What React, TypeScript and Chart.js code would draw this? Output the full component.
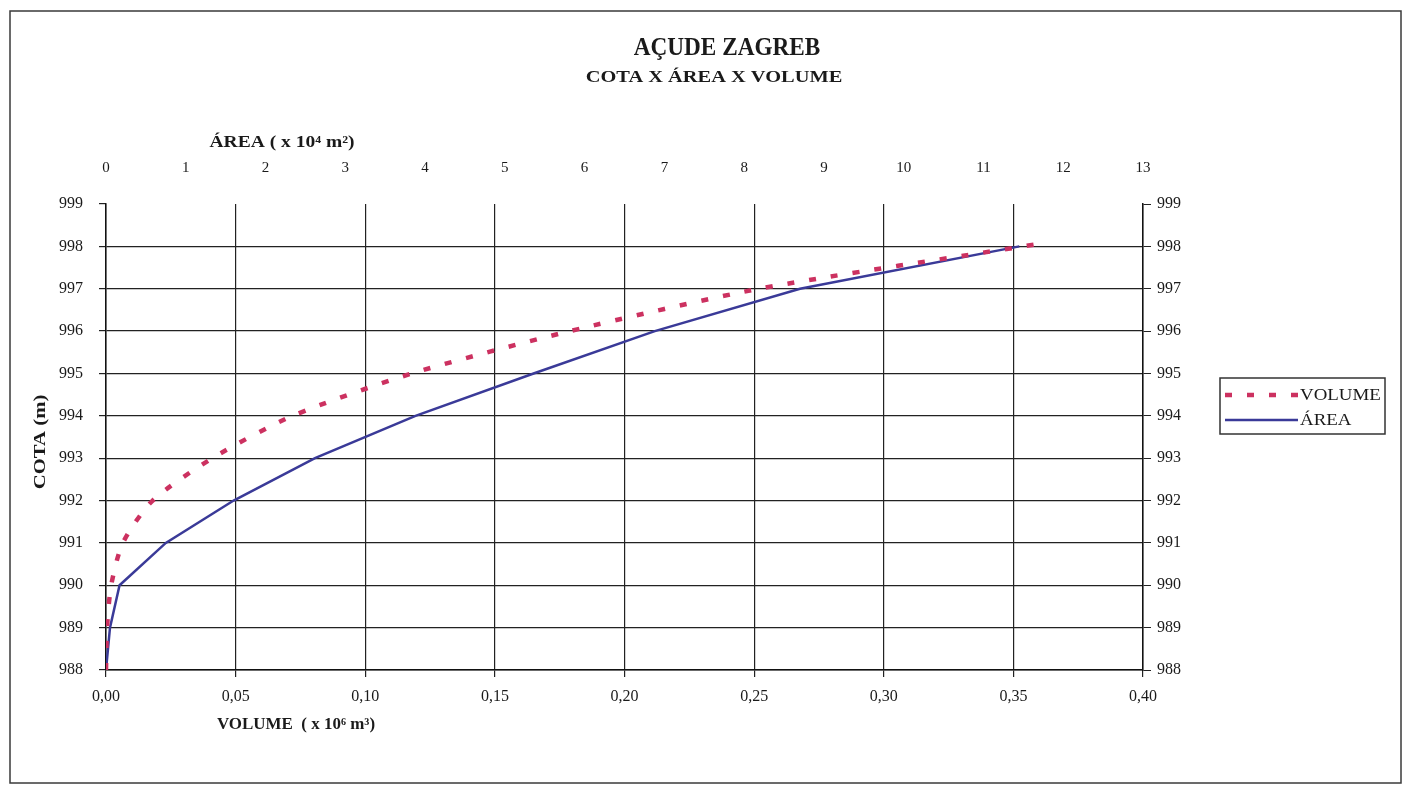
import React, { useEffect, useRef } from 'react';
import { Chart, registerables } from 'chart.js';

Chart.register(...registerables);

// ---- data ----
const TITLE = 'AÇUDE ZAGREB';
const SUBTITLE = 'COTA X ÁREA X VOLUME';
const AREA_TITLE = 'ÁREA ( x 10⁴ m²)';
const VOLUME_TITLE = 'VOLUME  ( x 10⁶ m³)';
const COTA_TITLE = 'COTA (m)';

const volumeLabel = 'VOLUME';
const areaLabel = 'ÁREA';

// cota (m) vs volume (x 10^6 m3)
const volumeCotas = [988, 989, 990, 991, 992, 993, 994, 995, 996, 997, 998.05];
const volumeValues = [0, 0.0004, 0.002, 0.0065, 0.018, 0.041, 0.072, 0.118, 0.179, 0.252, 0.359];

// cota (m) vs area (x 10^4 m2)
const areaCotas = [988, 989, 990, 991, 992, 993, 994, 995, 996, 997, 998];
const areaValues = [0, 0.05, 0.17, 0.75, 1.6, 2.62, 3.88, 5.36, 6.88, 8.7, 11.45];

// axes
const volumeRange = [0, 0.4];
const volumeStep = 0.05;
const areaRange = [0, 13];
const areaStep = 1;
const cotaRange = [988, 999];
const cotaStep = 1;

const SERIF = '"Liberation Serif", "Times New Roman", serif';
const RED = '#cc3160';
const BLUE = '#3a3a98';
const INK = '#1a1a1a';

// draw text widened horizontally (the scanned lettering is broad)
function wideText(ctx: any, text: string, x: number, y: number, sx: number, align: string = 'center') {
  ctx.save();
  ctx.translate(x, y);
  ctx.scale(sx, 1);
  ctx.textAlign = align;
  ctx.fillText(text, 0, 0);
  ctx.restore();
}

const decorPlugin = {
  id: 'decor',
  afterDraw(chart: any) {
    const ctx = chart.ctx as CanvasRenderingContext2D;
    ctx.save();
    // outer frame
    ctx.strokeStyle = '#3a3a3a';
    ctx.lineWidth = 1.5;
    ctx.strokeRect(10, 11, 1391, 772);

    ctx.fillStyle = INK;
    ctx.textBaseline = 'middle';
    ctx.font = `bold 25px ${SERIF}`;
    wideText(ctx, TITLE, 727, 49, 0.93);
    ctx.font = `bold 17px ${SERIF}`;
    wideText(ctx, SUBTITLE, 714, 78, 1.2);

    ctx.font = `bold 16px ${SERIF}`;
    wideText(ctx, AREA_TITLE, 282, 143, 1.22);
    ctx.font = `bold 16px ${SERIF}`;
    wideText(ctx, VOLUME_TITLE, 296, 725, 1.06);

    ctx.save();
    ctx.translate(41, 442);
    ctx.rotate(-Math.PI / 2);
    ctx.font = `bold 17px ${SERIF}`;
    wideText(ctx, COTA_TITLE, 0, 0, 1.22);
    ctx.restore();

    // legend
    const bx = 1220, by = 378, bw = 165, bh = 56;
    ctx.strokeStyle = '#333';
    ctx.lineWidth = 1.5;
    ctx.strokeRect(bx, by, bw, bh);
    const ds = chart.data.datasets;
    const rows = [by + 17, by + 42];
    ds.forEach((d: any, i: number) => {
      const y = rows[i];
      ctx.save();
      ctx.strokeStyle = d.borderColor;
      ctx.lineWidth = d.borderWidth;
      ctx.setLineDash(d.borderDash || []);
      ctx.beginPath();
      ctx.moveTo(bx + 5, y);
      ctx.lineTo(bx + 78, y);
      ctx.stroke();
      ctx.restore();
      ctx.fillStyle = INK;
      ctx.font = `16px ${SERIF}`;
      wideText(ctx, d.label, bx + 80, y + 1, 1.18, 'left');
    });
    ctx.restore();
  },
};

export default function App() {
  const ref = useRef<HTMLCanvasElement | null>(null);

  useEffect(() => {
    if (!ref.current) return;
    const volumeData = volumeValues.map((v, i) => ({ x: v, y: volumeCotas[i] }));
    const areaData = areaValues.map((v, i) => ({ x: v, y: areaCotas[i] }));
    const tickFont = { family: SERIF, size: 16 };

    const chart = new Chart(ref.current, {
      type: 'scatter',
      data: {
        datasets: [
          {
            label: volumeLabel,
            data: volumeData,
            xAxisID: 'x',
            yAxisID: 'y',
            showLine: true,
            borderColor: RED,
            backgroundColor: RED,
            borderWidth: 4.5,
            borderDash: [7, 15],
            pointRadius: 0,
            tension: 0.25,
          },
          {
            label: areaLabel,
            data: areaData,
            xAxisID: 'x2',
            yAxisID: 'y',
            showLine: true,
            borderColor: BLUE,
            backgroundColor: BLUE,
            borderWidth: 2.5,
            pointRadius: 0,
            tension: 0,
          },
        ],
      },
      plugins: [decorPlugin],
      options: {
        animation: false,
        responsive: false,
        maintainAspectRatio: false,
        layout: { padding: 0 },
        plugins: {
          legend: { display: false },
          title: { display: false },
          tooltip: { enabled: false },
        },
        scales: {
          x: {
            type: 'linear',
            position: 'bottom',
            min: volumeRange[0],
            max: volumeRange[1],
            ticks: {
              stepSize: volumeStep,
              color: INK,
              font: tickFont,
              padding: 10,
              maxRotation: 0,
              callback: (v: any) => Number(v).toFixed(2).replace('.', ','),
            },
            grid: { color: '#222', lineWidth: 1.2, tickLength: 7, tickColor: '#222' },
            border: { display: true, color: '#111', width: 1.5 },
            afterFit: (s: any) => { s.height = 122; },
          },
          x2: {
            type: 'linear',
            position: 'top',
            min: areaRange[0],
            max: areaRange[1],
            ticks: {
              stepSize: areaStep,
              color: INK,
              font: { family: SERIF, size: 15 },
              padding: 27,
              maxRotation: 0,
            },
            grid: { display: false, drawTicks: false },
            border: { display: false },
            afterFit: (s: any) => { s.height = 204; },
          },
          y: {
            type: 'linear',
            position: 'left',
            min: cotaRange[0],
            max: cotaRange[1],
            ticks: { stepSize: cotaStep, color: INK, font: tickFont, padding: 16 },
            grid: {
              color: (c: any) => (c.tick && c.tick.value === cotaRange[1] ? 'rgba(0,0,0,0)' : '#222'),
              lineWidth: 1.2,
              tickLength: 7,
              tickColor: '#222',
            },
            border: { display: true, color: '#111', width: 1.5 },
            afterFit: (s: any) => { s.width = 106; },
          },
          y2: {
            type: 'linear',
            position: 'right',
            min: cotaRange[0],
            max: cotaRange[1],
            ticks: { stepSize: cotaStep, color: INK, font: tickFont, padding: 6 },
            grid: { drawOnChartArea: false, tickLength: 8, color: '#222' },
            border: { display: true, color: '#111', width: 1.5 },
            afterFit: (s: any) => { s.width = 1411 - 1143; },
          },
        },
      },
    } as any);
    return () => chart.destroy();
  }, []);

  return (
    <div style={{ position: 'absolute', left: 0, top: 0, width: 1411, height: 792, background: '#fff' }}>
      <canvas ref={ref} width={1411} height={792} style={{ width: 1411, height: 792 }} />
    </div>
  );
}
